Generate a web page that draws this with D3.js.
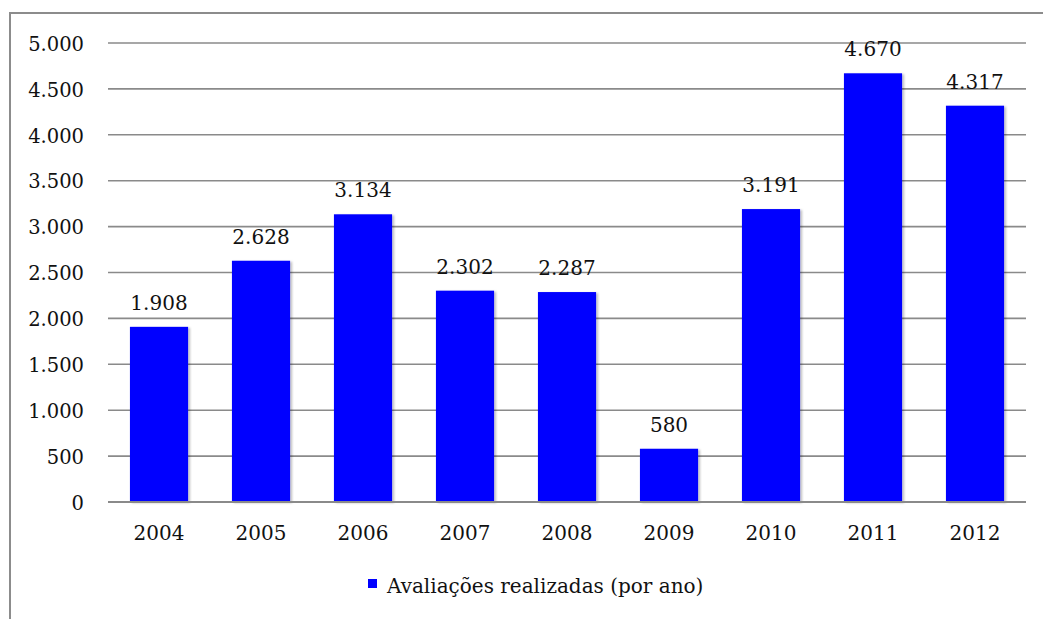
<!DOCTYPE html>
<html>
<head>
<meta charset="utf-8">
<script src="https://cdn.jsdelivr.net/npm/d3@7"></script>
<style>
  html, body { margin: 0; padding: 0; background: #fff; }
  svg { display: block; }
  text { font-family: "DejaVu Serif", serif; fill: #111; }
</style>
</head>
<body>
<svg id="chart" width="1043" height="619"></svg>
<script>
// Annual evaluations
const years = ["2004", "2005", "2006", "2007", "2008", "2009", "2010", "2011", "2012"];
const evaluations = [1908, 2628, 3134, 2302, 2287, 580, 3191, 4670, 4317];
const yTicks = [0, 500, 1000, 1500, 2000, 2500, 3000, 3500, 4000, 4500, 5000];
const seriesName = "Avaliações realizadas (por ano)";

const W = 1043, H = 619;
const plot = { left: 108, right: 1026, top: 43, bottom: 502 };
const fmt = v => d3.format(",")(v).replace(/,/g, ".");

const svg = d3.select("#chart");

// outer frame
svg.append("rect")
  .attr("x", 10).attr("y", 13)
  .attr("width", W + 10).attr("height", H + 10)
  .attr("fill", "none").attr("stroke", "#8c8c8c").attr("stroke-width", 2);

const defs = svg.append("defs");
const f = defs.append("filter").attr("id", "shadow")
  .attr("x", "-10%").attr("y", "-10%").attr("width", "130%").attr("height", "130%");
f.append("feDropShadow").attr("dx", 2).attr("dy", 1).attr("stdDeviation", 1.2)
  .attr("flood-color", "#000").attr("flood-opacity", 0.25);

const x = d3.scaleBand().domain(years).range([plot.left, plot.right])
  .paddingInner(0.43).paddingOuter(0.215);
const y = d3.scaleLinear().domain([0, 5000]).range([plot.bottom, plot.top]);

// gridlines
svg.append("g").selectAll("line").data(yTicks).join("line")
  .attr("x1", plot.left).attr("x2", plot.right)
  .attr("y1", d => y(d)).attr("y2", d => y(d))
  .attr("stroke", "#8a8a8a").attr("stroke-width", 1.6);

// y axis labels
const yAxis = d3.axisLeft(y).tickValues(yTicks).tickFormat(fmt).tickSize(0).tickPadding(0);
const gy = svg.append("g").attr("transform", `translate(${plot.left - 24},1)`).call(yAxis);
gy.select(".domain").remove();
gy.selectAll("text").attr("font-size", 19.5).attr("font-family", "DejaVu Serif, serif").attr("fill", "#111");

// bars
svg.append("g").selectAll("rect").data(evaluations).join("rect")
  .attr("x", (d, i) => x(years[i]))
  .attr("y", d => y(d))
  .attr("width", x.bandwidth())
  .attr("height", d => y(0) - y(d))
  .attr("fill", "#0000ff")
  .attr("filter", "url(#shadow)");

// baseline above bars
svg.append("line")
  .attr("x1", plot.left).attr("x2", plot.right)
  .attr("y1", y(0)).attr("y2", y(0))
  .attr("stroke", "#8a8a8a").attr("stroke-width", 2);

// value labels
svg.append("g").selectAll("text").data(evaluations).join("text")
  .attr("x", (d, i) => x(years[i]) + x.bandwidth() / 2)
  .attr("y", d => y(d) - 17)
  .attr("text-anchor", "middle")
  .attr("font-size", 20)
  .text(d => fmt(d));

// x axis labels
const xAxis = d3.axisBottom(x).tickSize(0).tickPadding(0);
const gx = svg.append("g").attr("transform", `translate(0,${plot.bottom + 24})`).call(xAxis);
gx.select(".domain").remove();
gx.selectAll("text").attr("font-size", 20).attr("font-family", "DejaVu Serif, serif").attr("fill", "#111");

// legend
const lg = svg.append("g").attr("transform", "translate(368,579)");
lg.append("rect").attr("width", 9).attr("height", 9).attr("fill", "#0000ff");
lg.append("text").attr("x", 19).attr("y", 14).attr("font-size", 20).text(seriesName);
</script>
</body>
</html>
